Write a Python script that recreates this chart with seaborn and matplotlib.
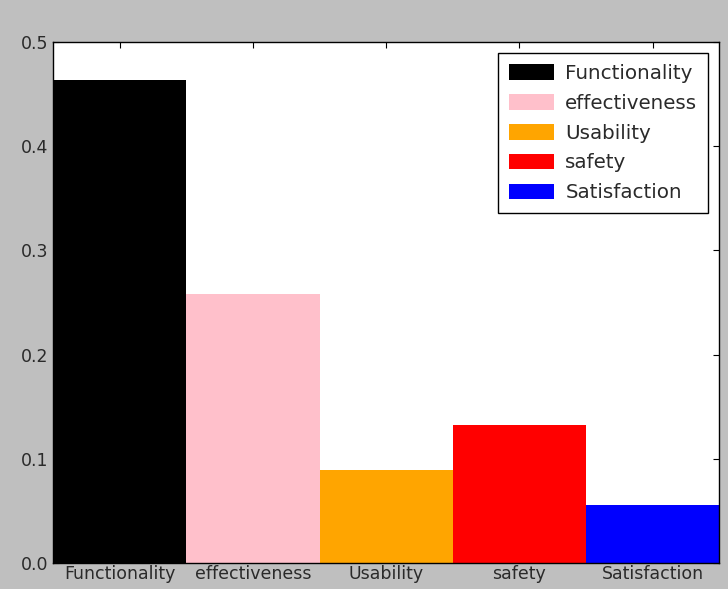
import matplotlib
matplotlib.use("Agg")
import matplotlib.pyplot as plt
import seaborn as sns
import pandas as pd

categories = ["Functionality", "effectiveness", "Usability", "safety", "Satisfaction"]
values = [0.463, 0.258, 0.089, 0.132, 0.056]
colors = ["black", "pink", "orange", "red", "blue"]
yticks = [0.0, 0.1, 0.2, 0.3, 0.4, 0.5]

sns.set_style("ticks")
plt.rcParams["font.family"] = ["DejaVu Sans"]

df = pd.DataFrame({"category": categories, "value": values})

fig = plt.figure(figsize=(7.28, 5.89), dpi=100, facecolor="#bfbfbf")
ax = fig.add_axes([0.073, 0.044, 0.915, 0.885])
ax.set_facecolor("white")

sns.barplot(data=df, x="category", y="value", hue="category",
            palette=colors, order=categories, hue_order=categories,
            width=1.0, dodge=False, saturation=1.0, legend=True, ax=ax,
            linewidth=0)

ax.set_xlim(-0.5, len(categories) - 0.5)
ax.set_ylim(0, 0.5)
ax.set_yticks(yticks)
ax.set_yticklabels([f"{t:.1f}" for t in yticks])
ax.set_xlabel("")
ax.set_ylabel("")

for s in ax.spines.values():
    s.set_visible(True)
    s.set_color("black")
    s.set_linewidth(1.0)

ax.tick_params(axis="both", direction="in", top=True, right=True,
               labelsize=12.5, length=4, width=0.8, colors="black",
               labelcolor="#2a2a2a")
ax.tick_params(axis="x", pad=1.5)
ax.tick_params(axis="y", pad=3.5)

leg = ax.legend(loc="upper right", fontsize=14.3, handlelength=2.3,
                handleheight=0.85, handletextpad=0.55, borderpad=0.55,
                labelspacing=0.55, borderaxespad=0.55,
                frameon=True, fancybox=False, edgecolor="black",
                framealpha=1.0)
leg.get_frame().set_linewidth(1.0)
for t in leg.get_texts():
    t.set_color("#2a2a2a")

fig.savefig("out.png", dpi=100, facecolor=fig.get_facecolor())
